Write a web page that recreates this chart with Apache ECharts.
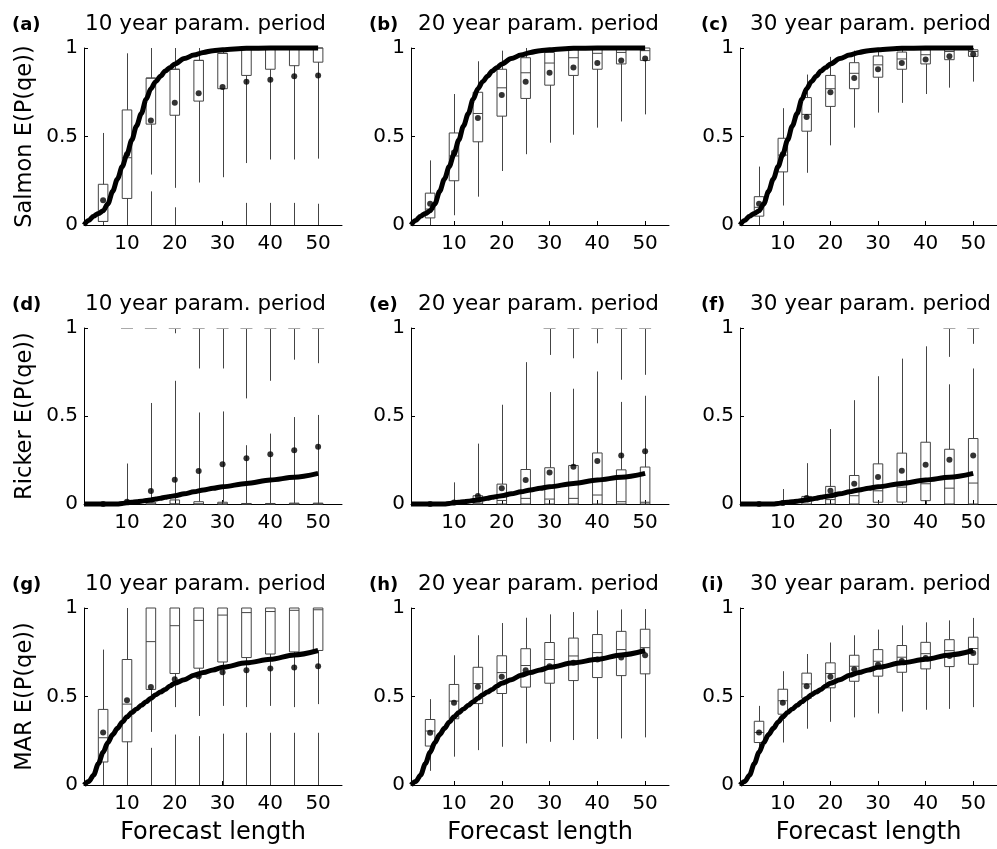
<!DOCTYPE html>
<html>
<head>
<meta charset="UTF-8">
<script src="https://cdn.jsdelivr.net/npm/echarts@6/dist/echarts.min.js"></script>
<style>
    html, body { margin: 0; padding: 0; background: #fff; }
    #chart { width: 997px; height: 849px; }
</style>
</head>
<body>
<div id="chart"></div>
<script>
    var forecast = [5, 10, 15, 20, 25, 30, 35, 40, 45, 50];
    var xTicks = [10, 20, 30, 40, 50];

    // each row: [lower whisker, q1, median, q3, upper whisker, mean]
    var boxA = [[0, 0.02, 0.02, 0.23, 0.52, 0.14], [0, 0.15, 0.38, 0.65, 0.97, 0.40], [0.285, 0.57, 0.83, 0.83, 1, 0.59],
        [0.21, 0.62, 0.88, 0.88, 1, 0.69], [0.24, 0.70, 0.93, 0.93, 1, 0.745], [0.27, 0.77, 0.97, 0.97, 1, 0.78],
        [0.35, 0.845, 1, 1, 1, 0.81], [0.37, 0.88, 1, 1, 1, 0.82], [0.37, 0.90, 1, 1, 1, 0.84], [0.375, 0.92, 1, 1, 1, 0.845]];
    var boxB = [[0, 0.04, 0.09, 0.18, 0.365, 0.12], [0.055, 0.25, 0.39, 0.52, 0.74, 0.41], [0.16, 0.47, 0.63, 0.75, 0.925, 0.605],
        [0.305, 0.615, 0.775, 0.88, 0.985, 0.735], [0.40, 0.715, 0.86, 0.945, 1, 0.81], [0.465, 0.79, 0.915, 0.975, 1, 0.86],
        [0.51, 0.845, 0.945, 1, 1, 0.89], [0.55, 0.88, 0.97, 1, 1, 0.915], [0.585, 0.91, 0.975, 1, 1, 0.93], [0.625, 0.93, 0.985, 1, 1, 0.94]];
    var boxC = [[0, 0.05, 0.10, 0.16, 0.33, 0.12], [0.11, 0.30, 0.395, 0.49, 0.66, 0.40], [0.295, 0.53, 0.625, 0.72, 0.85, 0.61],
        [0.45, 0.67, 0.77, 0.845, 0.95, 0.75], [0.55, 0.77, 0.857, 0.917, 0.985, 0.83], [0.635, 0.835, 0.905, 0.955, 1, 0.88],
        [0.69, 0.88, 0.938, 0.977, 1, 0.915], [0.74, 0.91, 0.962, 0.99, 1, 0.935], [0.776, 0.934, 0.98, 1, 1, 0.953], [0.81, 0.953, 0.98, 0.99, 1, 0.965]];
    var boxD = [[0, 0, 0, 0, 0, 0], [0, 0, 0, 0, 0.23, 0.013], [0, 0, 0, 0.01, 0.574, 0.074],
        [0, 0, 0, 0.023, 0.70, 0.138], [0, 0, 0, 0.013, 0.52, 0.187], [0, 0, 0, 0.01, 0.526, 0.226],
        [0, 0, 0, 0.003, 0.334, 0.26], [0, 0, 0, 0.003, 0.40, 0.283], [0, 0, 0, 0.005, 0.494, 0.306], [0, 0, 0, 0.005, 0.506, 0.325]];
    var boxE = [[0, 0, 0, 0, 0, 0], [0, 0, 0, 0, 0.123, 0.008], [0, 0, 0.005, 0.047, 0.343, 0.045],
        [0, 0, 0.02, 0.113, 0.564, 0.089], [0, 0, 0.032, 0.196, 0.806, 0.136], [0, 0, 0.028, 0.206, 0.636, 0.179],
        [0, 0, 0.032, 0.219, 0.655, 0.211], [0, 0, 0.051, 0.29, 0.753, 0.245], [0, 0, 0.013, 0.194, 0.58, 0.275], [0, 0, 0.01, 0.21, 0.615, 0.30]];
    var boxF = [[0, 0, 0, 0, 0, 0], [0, 0, 0, 0, 0.085, 0.005], [0, 0, 0.025, 0.043, 0.232, 0.034],
        [0, 0, 0.025, 0.10, 0.426, 0.075], [0, 0, 0.047, 0.162, 0.59, 0.115], [0, 0.01, 0.075, 0.228, 0.726, 0.153],
        [0, 0.011, 0.096, 0.289, 0.826, 0.189], [0, 0.019, 0.115, 0.351, 0.896, 0.223], [0, 0, 0.09, 0.311, 0.68, 0.251], [0, 0, 0.119, 0.372, 0.77, 0.275]];
    var boxG = [[0, 0.13, 0.267, 0.427, 0.765, 0.297], [0, 0.244, 0.457, 0.709, 1, 0.479], [0.30, 0.54, 0.81, 1, 1, 0.553],
        [0.44, 0.63, 0.90, 1, 1, 0.598], [0.39, 0.66, 0.93, 1, 1, 0.615], [0.447, 0.695, 0.96, 1, 1, 0.637],
        [0.44, 0.72, 0.974, 1, 1, 0.648], [0.447, 0.74, 0.98, 1, 1, 0.658], [0.44, 0.752, 0.987, 1, 1, 0.664], [0.457, 0.76, 0.99, 1, 1, 0.671]];
    var boxH = [[0.08, 0.22, 0.305, 0.37, 0.485, 0.295], [0.16, 0.374, 0.474, 0.568, 0.733, 0.464], [0.197, 0.46, 0.573, 0.665, 0.846, 0.555],
        [0.216, 0.517, 0.635, 0.73, 0.915, 0.611], [0.235, 0.553, 0.675, 0.77, 0.945, 0.648], [0.244, 0.575, 0.709, 0.805, 0.964, 0.671],
        [0.254, 0.59, 0.729, 0.83, 0.977, 0.69], [0.26, 0.607, 0.748, 0.85, 0.987, 0.709], [0.263, 0.618, 0.765, 0.868, 0.992, 0.72], [0.269, 0.628, 0.776, 0.88, 0.994, 0.733]];
    var boxI = [[0.18, 0.24, 0.297, 0.36, 0.447, 0.297], [0.24, 0.40, 0.476, 0.541, 0.643, 0.464], [0.318, 0.49, 0.571, 0.632, 0.74, 0.558],
        [0.357, 0.549, 0.63, 0.69, 0.805, 0.611], [0.382, 0.586, 0.671, 0.733, 0.846, 0.654], [0.404, 0.615, 0.699, 0.765, 0.878, 0.679],
        [0.415, 0.637, 0.722, 0.788, 0.902, 0.70], [0.425, 0.656, 0.742, 0.806, 0.919, 0.718], [0.43, 0.669, 0.759, 0.821, 0.93, 0.729], [0.44, 0.682, 0.771, 0.835, 0.944, 0.746]];

    // dense runs of outliers drawn as vertical strokes: [forecast length, from, to]
    var runsA = [[15, 0, 0.19], [20, 0, 0.10], [35, 0, 0.125], [40, 0, 0.125], [45, 0, 0.125], [50, 0, 0.12]];
    var runsD = [[20, 0.97, 1], [25, 0.77, 1], [30, 0.77, 1], [35, 0.60, 1], [40, 0.70, 1], [45, 0.82, 1], [50, 0.80, 1]];
    var runsE = [[30, 0.847, 1], [35, 0.828, 1], [40, 0.913, 1], [45, 0.706, 1], [50, 0.734, 1]];
    var runsF = [[45, 0.836, 1], [50, 0.91, 1]];
    var runsG = [[15, 0, 0.21], [20, 0, 0.285], [25, 0, 0.276], [30, 0, 0.29], [35, 0, 0.295], [40, 0, 0.295], [45, 0, 0.295], [50, 0, 0.295]];

    // outliers sitting exactly at 1
    var capsD = [10, 15, 20, 25, 30, 35, 40, 45, 50];
    var capsE = [30, 35, 40, 45, 50];
    var capsF = [45, 50];

    var curveX = [1, 2, 3, 4, 5, 6, 7, 8, 9, 10, 11, 12, 13, 14, 15, 16, 17, 18, 19, 20, 22, 24, 26, 28, 30, 35, 40, 45, 50];
    var salmonCurve = [0, 0.025, 0.05, 0.065, 0.08, 0.12, 0.19, 0.26, 0.33, 0.40, 0.48, 0.56, 0.63, 0.71, 0.77, 0.81, 0.84, 0.87, 0.89, 0.91,
        0.94, 0.96, 0.975, 0.985, 0.99, 0.998, 1, 1, 1];
    var rickerCurve = [0, 0, 0, 0, 0, 0, 0, 0, 0.003, 0.007, 0.01, 0.013, 0.016, 0.02, 0.023, 0.028, 0.033, 0.038, 0.043, 0.047,
        0.058, 0.069, 0.08, 0.089, 0.098, 0.117, 0.136, 0.152, 0.174];
    var marCurve = [0, 0.02, 0.055, 0.12, 0.185, 0.24, 0.285, 0.32, 0.355, 0.385, 0.41, 0.43, 0.45, 0.47, 0.49, 0.51, 0.525, 0.54, 0.56, 0.575,
        0.595, 0.62, 0.635, 0.65, 0.665, 0.69, 0.71, 0.735, 0.76];

    var panelTags = ['(a)', '(b)', '(c)', '(d)', '(e)', '(f)', '(g)', '(h)', '(i)'];
    var periods = ['10 year param. period', '20 year param. period', '30 year param. period'];
    var modelNames = ['Salmon E(P(qe))', 'Ricker E(P(qe))', 'MAR E(P(qe))'];

    var boxes = [boxA, boxB, boxC, boxD, boxE, boxF, boxG, boxH, boxI];
    var runs = [runsA, [], [], runsD, runsE, runsF, runsG, [], []];
    var caps = [[], [], [], capsD, capsE, capsF, [], [], []];
    var curves = [salmonCurve, rickerCurve, marCurve];

    var colLeft = [84, 411, 740];
    var rowTop = [48, 328, 608];
    var rowH = [177, 176, 177];
    var FONT = 'DejaVu Sans';
    var lineCol = '#444';

    function x0(p) { return Math.round(p[0]) + 0.5; }

    function renderBox(params, api) {
        var x = api.value(0);
        var lo = api.coord([x, api.value(1)]);
        var q1 = api.coord([x, api.value(2)]);
        var med = api.coord([x, api.value(3)]);
        var q3 = api.coord([x, api.value(4)]);
        var hi = api.coord([x, api.value(5)]);
        var hw = api.size([2, 0])[0] / 2;
        var st = {stroke: lineCol, lineWidth: 1, fill: 'none'};
        var kids = [];
        if (api.value(5) > api.value(4)) kids.push({type: 'line', shape: {x1: x0(hi), y1: hi[1], x2: x0(q3), y2: q3[1]}, style: st});
        if (api.value(2) > api.value(1)) kids.push({type: 'line', shape: {x1: x0(q1), y1: q1[1], x2: x0(lo), y2: lo[1]}, style: st});
        if (api.value(4) > api.value(2)) {
            kids.push({type: 'rect', shape: {x: q3[0] - hw, y: q3[1], width: 2 * hw, height: q1[1] - q3[1]}, style: st});
            kids.push({type: 'line', shape: {x1: med[0] - hw, y1: med[1], x2: med[0] + hw, y2: med[1]}, style: st});
        }
        return {type: 'group', children: kids};
    }

    function renderRun(params, api) {
        var a = api.coord([api.value(0), api.value(1)]);
        var b = api.coord([api.value(0), api.value(2)]);
        return {type: 'line', shape: {x1: x0(a), y1: a[1], x2: x0(b), y2: b[1]}, style: {stroke: lineCol, lineWidth: 1}};
    }

    function renderCap(params, api) {
        var p = api.coord([api.value(0), 1]);
        return {type: 'line', shape: {x1: p[0] - 6, y1: p[1] + 0.5, x2: p[0] + 6, y2: p[1] + 0.5}, style: {stroke: '#aaa', lineWidth: 1}};
    }

    var grids = [], xAxes = [], yAxes = [], series = [], titles = [];
    for (var i = 0; i < 9; i++) {
        var row = Math.floor(i / 3), col = i % 3;
        grids.push({left: colLeft[col], top: rowTop[row], width: 258, height: rowH[row]});
        xAxes.push({
            gridIndex: i, type: 'value', min: 1, max: 55,
            axisLine: {show: true, onZero: false, lineStyle: {color: '#000', width: 1}},
            axisTick: {show: true, inside: true, length: 4, customValues: xTicks, lineStyle: {color: '#000'}},
            axisLabel: {customValues: xTicks, fontSize: 20, fontFamily: FONT, color: '#000', margin: 9},
            splitLine: {show: false},
            name: row === 2 ? 'Forecast length' : '', nameLocation: 'middle', nameGap: 36,
            nameTextStyle: {fontSize: 24, fontFamily: FONT, color: '#000'}
        });
        yAxes.push({
            gridIndex: i, type: 'value', min: 0, max: 1, interval: 0.5,
            axisLine: {show: true, lineStyle: {color: '#000', width: 1}},
            axisTick: {show: true, inside: true, length: 4, lineStyle: {color: '#000'}},
            axisLabel: {fontSize: 20, fontFamily: FONT, color: '#000', margin: 6},
            splitLine: {show: false},
            name: col === 0 ? modelNames[row] : '', nameLocation: 'middle', nameGap: 47,
            nameTextStyle: {fontSize: 22.5, fontFamily: FONT, color: '#000'}
        });

        var bx = boxes[i];
        series.push({
            type: 'custom', xAxisIndex: i, yAxisIndex: i, renderItem: renderBox, z: 2, silent: true,
            data: forecast.map(function (x, j) { return [x, bx[j][0], bx[j][1], bx[j][2], bx[j][3], bx[j][4]]; })
        });
        series.push({type: 'custom', xAxisIndex: i, yAxisIndex: i, renderItem: renderRun, z: 2, silent: true, data: runs[i]});
        series.push({
            type: 'custom', xAxisIndex: i, yAxisIndex: i, renderItem: renderCap, z: 2, silent: true, clip: false,
            data: caps[i].map(function (x) { return [x]; })
        });
        series.push({
            type: 'scatter', xAxisIndex: i, yAxisIndex: i, symbolSize: 6, z: 3, silent: true, clip: false,
            itemStyle: {color: '#000'},
            data: forecast.map(function (x, j) { return [x, bx[j][5]]; })
        });
        var cv = curves[row];
        series.push({
            type: 'line', xAxisIndex: i, yAxisIndex: i, showSymbol: false, symbol: 'none', smooth: 0.3, smoothMonotone: 'x',
            clip: false, z: 4, silent: true, lineStyle: {color: '#000', width: 5},
            data: curveX.map(function (x, k) { return [x, cv[k]]; })
        });

        titles.push({text: panelTags[i], left: [12, 369, 701][col], top: [16, 296, 576][row], padding: 0,
            textStyle: {fontSize: 18, fontWeight: 'bold', fontFamily: FONT, color: '#000'}});
        titles.push({text: periods[col], left: [85, 418, 750][col], top: [13, 293, 573][row], padding: 0,
            textStyle: {fontSize: 21.5, fontWeight: 'normal', fontFamily: FONT, color: '#000'}});
    }

    var chart = echarts.init(document.getElementById('chart'));
    chart.setOption({
        animation: false,
        backgroundColor: '#fff',
        title: titles,
        grid: grids,
        xAxis: xAxes,
        yAxis: yAxes,
        series: series
    });
</script>
</body>
</html>
